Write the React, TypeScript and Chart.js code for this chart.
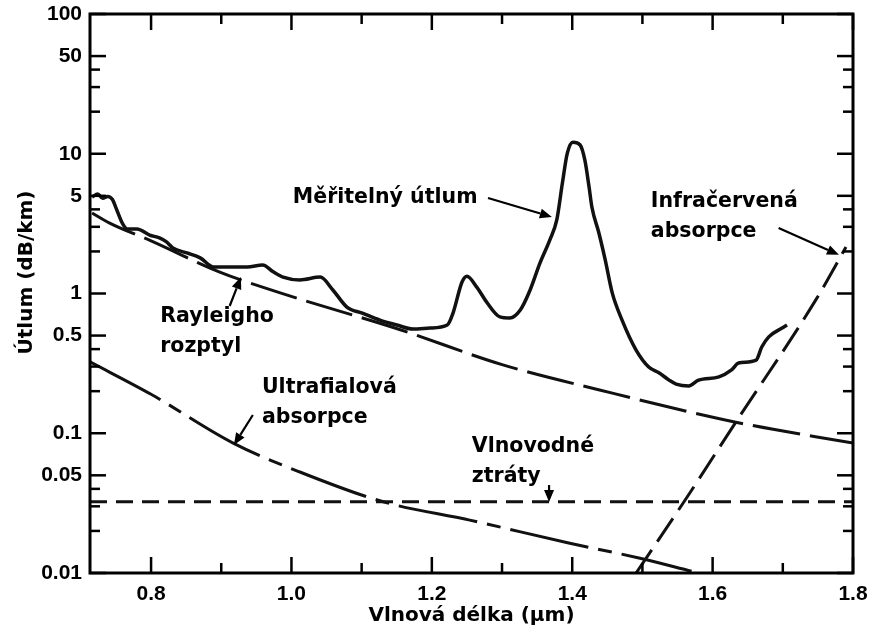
import React, { useEffect, useRef } from 'react';
import { Chart, registerables } from 'chart.js';

Chart.register(...registerables);

// ---- Data (wavelength in µm, attenuation in dB/km) ----
const measuredX = [0.716, 0.724, 0.731, 0.738, 0.745, 0.750, 0.759, 0.766, 0.780, 0.798, 0.812, 0.822, 0.831, 0.851, 0.870, 0.889, 0.909, 0.937, 0.959, 0.974, 0.988, 1.012, 1.041, 1.059, 1.079, 1.102, 1.126, 1.150, 1.173, 1.197, 1.222, 1.230, 1.243, 1.250, 1.264, 1.279, 1.297, 1.311, 1.326, 1.340, 1.354, 1.368, 1.378, 1.386, 1.393, 1.401, 1.411, 1.418, 1.424, 1.428, 1.438, 1.447, 1.457, 1.471, 1.491, 1.509, 1.524, 1.538, 1.548, 1.566, 1.580, 1.609, 1.627, 1.637, 1.662, 1.670, 1.680, 1.699, 1.706];
const measuredY = [4.90, 5.15, 4.80, 4.95, 4.70, 4.10, 3.19, 2.90, 2.90, 2.62, 2.50, 2.34, 2.12, 1.95, 1.80, 1.55, 1.55, 1.55, 1.60, 1.43, 1.31, 1.25, 1.31, 1.06, 0.80, 0.72, 0.645, 0.595, 0.557, 0.566, 0.595, 0.72, 1.21, 1.33, 1.11, 0.855, 0.68, 0.668, 0.762, 1.06, 1.65, 2.41, 3.36, 6.18, 10.1, 12.1, 11.6, 9.0, 5.78, 4.16, 2.71, 1.74, 1.01, 0.645, 0.394, 0.298, 0.270, 0.240, 0.225, 0.218, 0.240, 0.253, 0.284, 0.318, 0.334, 0.414, 0.489, 0.566, 0.595];

const rayleighX = [0.716, 0.741, 0.800, 0.897, 0.984, 1.155, 1.300, 1.439, 1.633, 1.800];
const rayleighY = [3.77, 3.19, 2.38, 1.43, 1.01, 0.55, 0.31, 0.204, 0.120, 0.085];

const uvX = [0.713, 0.800, 0.917, 1.012, 1.132, 1.254, 1.395, 1.495, 1.570];
const uvY = [0.324, 0.19, 0.085, 0.0528, 0.0322, 0.0239, 0.0164, 0.0128, 0.0103];

const waveguideX = [0.713, 1.800];
const waveguideY = [0.0324, 0.0324];

const irX = [1.491, 1.559, 1.633, 1.747, 1.790];
const irY = [0.010, 0.0322, 0.120, 0.90, 2.15];

const xTicks = [0.8, 1.0, 1.2, 1.4, 1.6, 1.8];
const xMinorTicks = [0.9, 1.1, 1.3, 1.5, 1.7];
const yTicks = [0.01, 0.05, 0.1, 0.5, 1, 5, 10, 50, 100];
const yMinorTicks = [0.02, 0.03, 0.04, 0.2, 0.3, 0.4, 2, 3, 4, 20, 30, 40];

const xTitle = 'Vlnová délka (µm)';
const yTitle = 'Útlum (dB/km)';

// Annotation labels (anchored in data coordinates)
const labelTexts = [
  ['Měřitelný útlum'],
  ['Rayleigho', 'rozptyl'],
  ['Ultrafialová', 'absorpce'],
  ['Vlnovodné', 'ztráty'],
  ['Infračervená', 'absorpce'],
];
const labelX = [1.002, 0.813, 0.958, 1.257, 1.512];
const labelY = [4.82, 0.679, 0.211, 0.0797, 4.51];

// Arrows: from -> to (data coordinates)
const arrowFromX = [1.280, 0.912, 0.945, 1.367, 1.694];
const arrowFromY = [4.82, 0.814, 0.135, 0.0426, 2.94];
const arrowToX = [1.371, 0.928, 0.918, 1.367, 1.780];
const arrowToY = [3.53, 1.31, 0.0824, 0.0322, 1.89];

const X_MIN = 0.713;
const X_MAX = 1.8;

const pts = (xs: number[], ys: number[]) => xs.map((x, i) => ({ x, y: ys[i] }));

const decorPlugin = {
  id: 'decor',
  afterDatasetsDraw(chart: any) {
    const { ctx, chartArea: a, scales } = chart;
    const xs = scales.x;
    const ys = scales.y;
    ctx.save();
    ctx.strokeStyle = '#000';
    ctx.fillStyle = '#000';
    ctx.lineCap = 'butt';
    // frame
    ctx.lineWidth = 3;
    ctx.strokeRect(a.left, a.top, a.right - a.left, a.bottom - a.top);
    const seg = (x1: number, y1: number, x2: number, y2: number) => {
      ctx.beginPath();
      ctx.moveTo(x1, y1);
      ctx.lineTo(x2, y2);
      ctx.stroke();
    };
    ctx.lineWidth = 2.5;
    const MAJ = 16;
    const MIN = 10;
    xTicks.forEach((v) => {
      const p = xs.getPixelForValue(v);
      seg(p, a.bottom, p, a.bottom - MAJ);
      seg(p, a.top, p, a.top + MAJ);
    });
    xMinorTicks.forEach((v) => {
      const p = xs.getPixelForValue(v);
      seg(p, a.bottom, p, a.bottom - MIN);
      seg(p, a.top, p, a.top + MIN);
    });
    yTicks.forEach((v) => {
      const p = ys.getPixelForValue(v);
      seg(a.left, p, a.left + MAJ, p);
      seg(a.right, p, a.right - MAJ, p);
    });
    yMinorTicks.forEach((v) => {
      const p = ys.getPixelForValue(v);
      seg(a.left, p, a.left + MIN, p);
      seg(a.right, p, a.right - MIN, p);
    });

    // y axis title (drawn slightly above centre, as in the original)
    ctx.save();
    ctx.font = 'bold 20px "DejaVu Sans"';
    ctx.textAlign = 'center';
    ctx.textBaseline = 'middle';
    ctx.translate(a.left - 63, (a.top + a.bottom) / 2 - 21);
    ctx.rotate(-Math.PI / 2);
    ctx.fillText(yTitle, 0, 0);
    ctx.restore();

    // annotation texts
    ctx.font = 'bold 20.5px "DejaVu Sans"';
    ctx.textAlign = 'left';
    ctx.textBaseline = 'middle';
    labelTexts.forEach((lines, i) => {
      const px = xs.getPixelForValue(labelX[i]);
      const py = ys.getPixelForValue(labelY[i]);
      lines.forEach((t, j) => ctx.fillText(t, px, py + j * 30));
    });

    // arrows
    ctx.lineWidth = 2.2;
    arrowFromX.forEach((_, i) => {
      const x1 = xs.getPixelForValue(arrowFromX[i]);
      const y1 = ys.getPixelForValue(arrowFromY[i]);
      const x2 = xs.getPixelForValue(arrowToX[i]);
      const y2 = ys.getPixelForValue(arrowToY[i]);
      const ang = Math.atan2(y2 - y1, x2 - x1);
      const L = 12;
      const W = 5;
      const bx = x2 - L * Math.cos(ang);
      const by = y2 - L * Math.sin(ang);
      seg(x1, y1, bx, by);
      ctx.beginPath();
      ctx.moveTo(x2, y2);
      ctx.lineTo(bx + W * Math.sin(ang), by - W * Math.cos(ang));
      ctx.lineTo(bx - W * Math.sin(ang), by + W * Math.cos(ang));
      ctx.closePath();
      ctx.fill();
    });
    ctx.restore();
  },
};

export default function App() {
  const canvasRef = useRef<HTMLCanvasElement | null>(null);

  useEffect(() => {
    document.body.style.margin = '0';
    document.body.style.background = '#fff';
    const canvas = canvasRef.current;
    if (!canvas) return;
    const black = '#111';
    const chart = new Chart(canvas, {
      type: 'line',
      data: {
        datasets: [
          {
            label: 'Měřitelný útlum',
            data: pts(measuredX, measuredY),
            borderColor: black,
            borderWidth: 3.5,
            pointRadius: 0,
            cubicInterpolationMode: 'monotone',
            fill: false,
          },
          {
            label: 'Rayleigho rozptyl',
            data: pts(rayleighX, rayleighY),
            borderColor: black,
            borderWidth: 3,
            borderDash: [48, 10],
            pointRadius: 0,
            cubicInterpolationMode: 'monotone',
            fill: false,
          },
          {
            label: 'Ultrafialová absorpce',
            data: pts(uvX, uvY),
            borderColor: black,
            borderWidth: 3,
            borderDash: [80, 10, 14, 10],
            pointRadius: 0,
            cubicInterpolationMode: 'monotone',
            fill: false,
          },
          {
            label: 'Vlnovodné ztráty',
            data: pts(waveguideX, waveguideY),
            borderColor: black,
            borderWidth: 3,
            borderDash: [17, 9],
            pointRadius: 0,
            fill: false,
          },
          {
            label: 'Infračervená absorpce',
            data: pts(irX, irY),
            borderColor: black,
            borderWidth: 3,
            borderDash: [28, 10],
            pointRadius: 0,
            cubicInterpolationMode: 'monotone',
            fill: false,
          },
        ],
      },
      options: {
        responsive: false,
        animation: false,
        layout: { padding: { top: 14, right: 16, left: 0, bottom: 0 } },
        plugins: {
          legend: { display: false },
          tooltip: { enabled: false },
        },
        scales: {
          x: {
            type: 'linear',
            min: X_MIN,
            max: X_MAX,
            grid: { display: false, drawTicks: false },
            border: { display: false },
            afterBuildTicks: (s: any) => {
              s.ticks = xTicks.map((v) => ({ value: v }));
            },
            afterFit: (s: any) => {
              s.height = 64;
              s.paddingLeft = 0;
              s.paddingRight = 0;
            },
            ticks: {
              padding: 9,
              color: '#000',
              maxRotation: 0,
              font: { family: '"Liberation Sans"', size: 21, weight: 'bold' },
              callback: (v: any) => Number(v).toFixed(1),
            },
            title: {
              display: true,
              text: xTitle,
              color: '#000',
              padding: { top: 0, bottom: 9 },
              font: { family: '"DejaVu Sans"', size: 20, weight: 'bold' },
            },
          },
          y: {
            type: 'logarithmic',
            min: 0.01,
            max: 100,
            grid: { display: false, drawTicks: false },
            border: { display: false },
            afterBuildTicks: (s: any) => {
              s.ticks = yTicks.map((v) => ({ value: v }));
            },
            afterFit: (s: any) => {
              s.width = 90;
              s.paddingTop = 0;
              s.paddingBottom = 0;
            },
            ticks: {
              padding: 8,
              color: '#000',
              font: { family: '"Liberation Sans"', size: 21, weight: 'bold' },
              callback: (v: any) => String(Number(v)),
            },
            title: { display: false },
          },
        },
      },
      plugins: [decorPlugin],
    } as any);
    return () => chart.destroy();
  }, []);

  return (
    <div style={{ width: 869, height: 637, background: '#fff' }}>
      <canvas ref={canvasRef} width={869} height={637} style={{ display: 'block' }} />
    </div>
  );
}
